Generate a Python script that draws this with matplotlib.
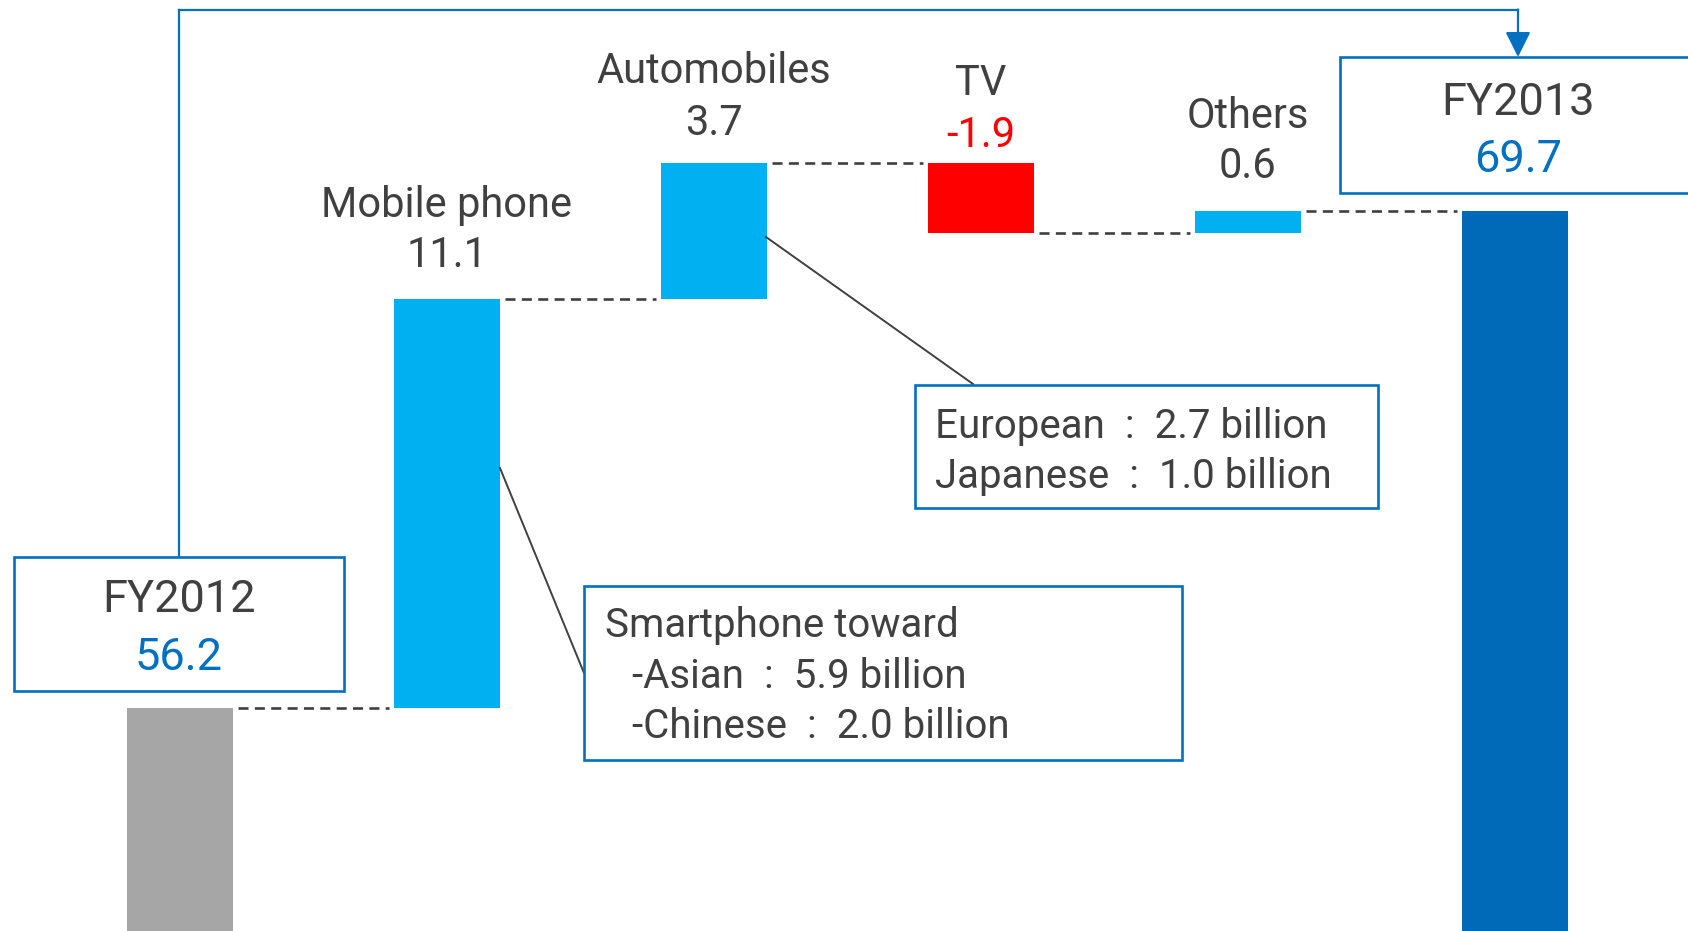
import matplotlib
matplotlib.use("Agg")
import matplotlib.pyplot as plt
from matplotlib.patches import Rectangle, FancyArrowPatch
from matplotlib.lines import Line2D
import matplotlib.transforms as mtransforms

plt.rcParams['font.family'] = ['Roboto', 'DejaVu Sans']

# sales bridge FY2012 -> FY2013 (billion)
start_label = "FY2012"
start_total = 56.2
end_label = "FY2013"
end_total = 69.7
categories = ["Mobile phone", "Automobiles", "TV", "Others"]
changes = [11.1, 3.7, -1.9, 0.6]

mobile_head = "Smartphone toward"
mobile_notes = ["-Asian  :  5.9 billion", "-Chinese  :  2.0 billion"]
auto_notes = ["European  :  2.7 billion", "Japanese  :  1.0 billion"]

W, H = 1688, 931
DARK = "#404040"
BLUE = "#0070C0"
BAR_BLUE = "#006AB8"
LIGHT = "#00B0F0"
RED = "#FF0000"
GREY = "#A6A6A6"
BAR_W = 0.4

fig = plt.figure(figsize=(W / 100, H / 100), dpi=100)
ax = fig.add_axes([0, 0, 1, 1])
ax.set_xlim(-0.674, 5.648)
ax.set_ylim(50.14, 75.43)
ax.axis("off")


def px(x, y):
    """pixel position (top-left origin) -> figure fraction"""
    return x / W, 1 - y / H


# running totals for the floating bars
levels = [start_total]
for c in changes:
    levels.append(levels[-1] + c)

ax.bar(0, start_total, width=BAR_W, color=GREY)
for i, c in enumerate(changes, start=1):
    lo = min(levels[i - 1], levels[i])
    ax.bar(i, abs(c), bottom=lo, width=BAR_W,
           color=RED if c < 0 else LIGHT)
n = len(changes) + 1
ax.bar(n, end_total, width=BAR_W, color=BAR_BLUE)

# dashed connectors between bars
for i in range(n):
    y = levels[i]
    ax.plot([i + BAR_W / 2 + 0.017, i + 1 - BAR_W / 2 - 0.017], [y, y],
            color=DARK, lw=1.9, dashes=(3.8, 2.4), solid_capstyle="butt")

# category names and change values above each bar
trans = mtransforms.blended_transform_factory(ax.transData, fig.transFigure)
name_base = [217, 83, 95, 128]
value_base = [267, 135, 147, 178]
for i, (cat, c) in enumerate(zip(categories, changes), start=1):
    ax.text(i, 1 - name_base[i - 1] / H, cat, transform=trans,
            ha="center", va="baseline", fontsize=30, color=DARK)
    ax.text(i, 1 - value_base[i - 1] / H, f"{c:.1f}", transform=trans,
            ha="center", va="baseline", fontsize=30,
            color=RED if c < 0 else DARK)


def box(x0, y0, x1, y1):
    fx0, fy1 = px(x0, y0)
    fx1, fy0 = px(x1, y1)
    fig.patches.append(Rectangle((fx0, fy0), fx1 - fx0, fy1 - fy0,
                                 transform=fig.transFigure, facecolor="white",
                                 edgecolor=BLUE, lw=1.9, zorder=3))


def line(x0, y0, x1, y1, color=DARK, lw=1.4):
    a, b = px(x0, y0)
    c, d = px(x1, y1)
    fig.lines.append(Line2D([a, c], [b, d], transform=fig.transFigure,
                            color=color, lw=lw, zorder=2))


# total boxes
box(14, 557, 344, 691)
fig.text(*px(179, 612), start_label, ha="center", va="baseline", fontsize=32.5, color=DARK, zorder=4)
fig.text(*px(179, 670), f"{start_total:.1f}", ha="center", va="baseline", fontsize=32.5, color=BLUE, zorder=4)

box(1340, 57, 1700, 193)
fig.text(*px(1518, 115), end_label, ha="center", va="baseline", fontsize=32.5, color=DARK, zorder=4)
fig.text(*px(1518, 172), f"{end_total:.1f}", ha="center", va="baseline", fontsize=32.5, color=BLUE, zorder=4)

# link from FY2012 box to FY2013 box
line(179, 557, 179, 9.5, color=BLUE, lw=1.6)
line(179, 9.5, 1518, 9.5, color=BLUE, lw=1.6)
arrow = FancyArrowPatch(px(1518, 9.5), px(1518, 57), transform=fig.transFigure,
                        arrowstyle="-|>,head_length=1.1,head_width=0.55",
                        mutation_scale=14, color=BLUE, lw=1.6,
                        shrinkA=0, shrinkB=0, zorder=4)
fig.patches.append(arrow)

# breakdown callouts
line(766, 237, 973, 384)
box(915, 385, 1378, 508)
for k, t in enumerate(auto_notes):
    fig.text(*px(935, 438 + 49.5 * k), t, ha="left", va="baseline",
             fontsize=29, color=DARK, zorder=4)

line(500, 468, 584, 673)
box(584, 586, 1182, 760)
fig.text(*px(605, 637), mobile_head, ha="left", va="baseline",
         fontsize=29, color=DARK, zorder=4)
for k, t in enumerate(mobile_notes):
    fig.text(*px(632, 688 + 50.5 * k), t, ha="left", va="baseline",
             fontsize=29, color=DARK, zorder=4)

fig.savefig("out.png", dpi=100, facecolor="white")
